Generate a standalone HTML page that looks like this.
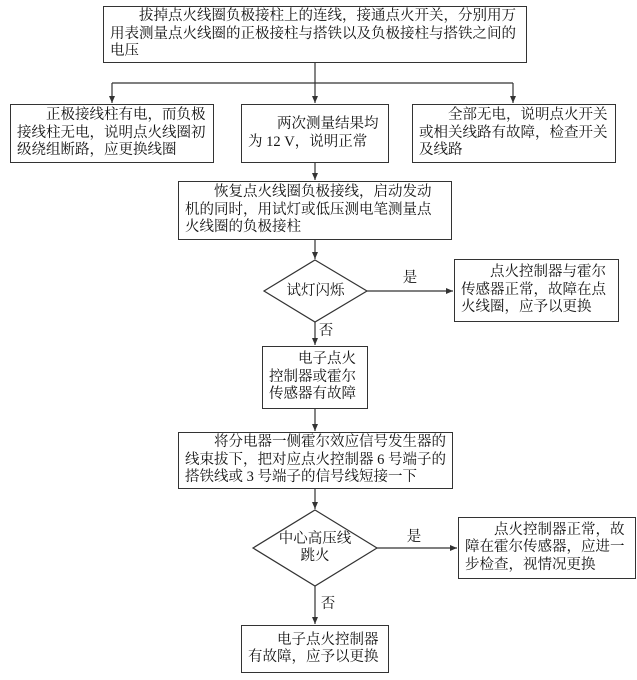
<!DOCTYPE html>
<html><head><meta charset="utf-8"><style>
body{margin:0;background:#fff;}
#c{position:relative;width:637px;height:680px;overflow:hidden;font-family:"Liberation Serif","Noto Serif CJK SC","Noto Sans CJK SC",serif;color:#111;}
.b{position:absolute;box-sizing:border-box;border:1.3px solid #333;font-size:14.5px;line-height:17.5px;padding:3px 6px;text-indent:2em;display:flex;align-items:center;}
.b div{width:100%}
.t{position:absolute;font-size:14.5px;line-height:17px;text-align:center}
svg{position:absolute;left:0;top:0}
</style></head><body><div id="c">
<svg width="637" height="680" stroke="#333" stroke-width="1.2" fill="none">
<defs><marker id="a" markerWidth="8" markerHeight="8" refX="7" refY="3" orient="auto" markerUnits="userSpaceOnUse"><path d="M0,0 L7,3 L0,6z" fill="#333" stroke="none"/></marker></defs>
<line x1="315" y1="63" x2="315" y2="103" marker-end="url(#a)"/>
<line x1="112" y1="83" x2="513" y2="83"/>
<line x1="112" y1="83" x2="112" y2="103" marker-end="url(#a)"/>
<line x1="513" y1="83" x2="513" y2="103" marker-end="url(#a)"/>
<line x1="315" y1="163" x2="315" y2="180" marker-end="url(#a)"/>
<line x1="315" y1="240" x2="315" y2="259" marker-end="url(#a)"/>
<polygon points="315,260 367,291 315,322 264,291"/>
<line x1="367" y1="291" x2="453" y2="291" marker-end="url(#a)"/>
<line x1="315" y1="322" x2="315" y2="345" marker-end="url(#a)"/>
<line x1="315" y1="409" x2="315" y2="431" marker-end="url(#a)"/>
<line x1="315" y1="489" x2="315" y2="509" marker-end="url(#a)"/>
<polygon points="315,510 377,548 315,586 253,548"/>
<line x1="377" y1="548" x2="457" y2="548" marker-end="url(#a)"/>
<line x1="315" y1="586" x2="315" y2="624" marker-end="url(#a)"/>
</svg>
<div class="b" style="left:103px;top:6px;width:424px;height:57px"><div>拔掉点火线圈负极接柱上的连线，接通点火开关，分别用万用表测量点火线圈的正极接柱与搭铁以及负极接柱与搭铁之间的电压</div></div>
<div class="b" style="left:10px;top:104px;width:204px;height:59px"><div>正极接线柱有电，而负极接线柱无电，说明点火线圈初级绕组断路，应更换线圈</div></div>
<div class="b" style="left:241px;top:104px;width:148px;height:59px"><div>两次测量结果均为 12 V，说明正常</div></div>
<div class="b" style="left:412px;top:104px;width:204px;height:59px"><div>全部无电，说明点火开关或相关线路有故障，检查开关及线路</div></div>
<div class="b" style="left:178px;top:181px;width:274px;height:59px"><div>恢复点火线圈负极接线，启动发动机的同时，用试灯或低压测电笔测量点火线圈的负极接柱</div></div>
<div class="t" style="left:264px;top:283px;width:103px">试灯闪烁</div>
<div class="t" style="left:400px;top:270px;width:20px">是</div>
<div class="b" style="left:454px;top:259px;width:165px;height:63px"><div>点火控制器与霍尔传感器正常，故障在点火线圈，应予以更换</div></div>
<div class="t" style="left:316px;top:323px;width:20px">否</div>
<div class="b" style="left:262px;top:346px;width:106px;height:63px"><div>电子点火控制器或霍尔传感器有故障</div></div>
<div class="b" style="left:178px;top:432px;width:275px;height:57px"><div>将分电器一侧霍尔效应信号发生器的线束拔下，把对应点火控制器 6 号端子的搭铁线或 3 号端子的信号线短接一下</div></div>
<div class="t" style="left:253px;top:531px;width:124px">中心高压线<br>跳火</div>
<div class="t" style="left:404px;top:529px;width:20px">是</div>
<div class="b" style="left:458px;top:517px;width:178px;height:62px"><div>点火控制器正常，故障在霍尔传感器，应进一步检查，视情况更换</div></div>
<div class="t" style="left:318px;top:596px;width:20px">否</div>
<div class="b" style="left:241px;top:625px;width:148px;height:48px"><div>电子点火控制器有故障，应予以更换</div></div>
</div></body></html>
